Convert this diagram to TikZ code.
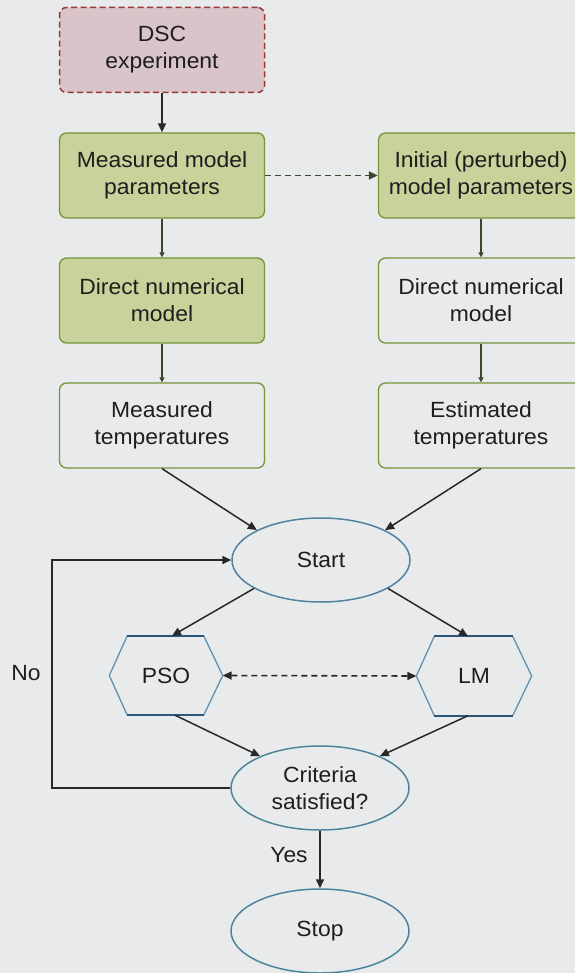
\documentclass[tikz,border=0pt]{standalone}
\usepackage{fontspec}
\setmainfont[FakeStretch=1.04]{Liberation Sans}
\usetikzlibrary{arrows.meta,shapes.geometric,calc}
\definecolor{bg}{RGB}{233,234,236}
\definecolor{pinkfill}{RGB}{216,196,201}
\definecolor{pinkline}{RGB}{155,55,55}
\definecolor{greenfill}{RGB}{201,210,155}
\definecolor{greenline}{RGB}{118,148,58}
\definecolor{ellline}{RGB}{78,132,158}
\definecolor{hexline}{RGB}{95,145,180}
\definecolor{hexdark}{RGB}{45,85,120}
\definecolor{arr}{RGB}{40,40,40}
\definecolor{garr}{RGB}{58,72,48}
\definecolor{txt}{RGB}{30,30,30}
\begin{document}
\begin{tikzpicture}[x=1pt,y=-1pt,
  font=\fontsize{22}{27}\selectfont, text=txt,
  box/.style={rectangle, rounded corners=7pt, minimum width=205pt, minimum height=85pt,
    align=center, draw=greenline, line width=1.3pt, inner sep=0pt},
  gbox/.style={box, fill=greenfill},
  dscbox/.style={box, fill=pinkfill, draw=pinkline, line width=1.5pt, dash pattern=on 6pt off 3.5pt},
  oval/.style={ellipse, draw=ellline, line width=1.5pt, minimum width=178pt,
    minimum height=84pt, inner sep=0pt, align=center},
  hexnode/.style={rectangle, minimum width=113pt, minimum height=79pt, inner sep=0pt},
  conn/.style={draw=arr, line width=1.5pt, -{Triangle[length=9pt,width=8pt]}},
  gconn/.style={draw=garr, line width=1.5pt, -{Triangle[length=5pt,width=5pt]}},
  dconn/.style={draw=garr, line width=1.6pt, dash pattern=on 6pt off 4pt},
  lbl/.style={inner sep=0pt}
]
\useasboundingbox (0,0) rectangle (575,973);
\fill[bg] (0,0) rectangle (575,973);
\clip (0,0) rectangle (575,973);

\node[dscbox] (dsc) at (162,50) {DSC\\experiment};
\node[gbox] (mmp) at (162,175.5) {Measured model\\parameters};
\node[gbox] (imp) at (481,175.5) {Initial (perturbed)\\model parameters};
\node[gbox] (dnm1) at (162,300.5) {Direct numerical\\model};
\node[box] (dnm2) at (481,300.5) {Direct numerical\\model};
\node[box] (mt) at (162,425.5) {Measured\\temperatures};
\node[box] (et) at (481,425.5) {Estimated\\temperatures};
\node[oval] (start) at (321,560) {Start};
\node[hexnode] (pso) at (166,675.5) {PSO};
\node[hexnode, minimum width=115pt] (lm) at (474,676) {LM};
\node[oval] (crit) at (320,788) {Criteria\\satisfied?};
\node[oval] (stop) at (320,931) {Stop};
\node[lbl] (no) at (26,673) {No};
\node[lbl] (yes) at (289,855) {Yes};

\foreach \h in {pso,lm} {
  \draw[hexline, line width=1.3pt] (\h.west) -- ([xshift=18pt]\h.north west)
    ([xshift=-19pt]\h.north east) -- (\h.east) -- ([xshift=-19pt]\h.south east)
    ([xshift=18pt]\h.south west) -- (\h.west);
  \draw[hexdark, line width=1.7pt] ([xshift=18pt]\h.north west) -- ([xshift=-19pt]\h.north east)
    ([xshift=18pt]\h.south west) -- ([xshift=-19pt]\h.south east);
}

\draw[conn] (dsc) -- (mmp);
\draw[gconn] (mmp) -- (dnm1);
\draw[gconn] (dnm1) -- (mt);
\draw[gconn] (imp) -- (dnm2);
\draw[gconn] (dnm2) -- (et);
\draw[dconn, -{Triangle[length=9pt,width=8pt]}] (mmp) -- (imp);
\draw[conn] (mt.south) -- (start.155);
\draw[conn] (et.south) -- (start.25);
\draw[conn] (start.203) -- ([xshift=6pt]pso.north);
\draw[conn] (start.337) -- ([xshift=-6pt]lm.north);
\draw[conn] ([xshift=9pt]pso.south) -- (crit.152);
\draw[conn] ([xshift=-6pt]lm.south) -- (crit.28);
\draw[dconn, draw=arr, {Triangle[length=9pt,width=8pt]}-{Triangle[length=9pt,width=8pt]}] (pso.east) -- (lm.west);
\draw[conn] (crit) -- (stop);
\coordinate (loopx) at (52,0);
\draw[conn] (crit.west) -- (crit.west -| loopx) |- (start.west);
\end{tikzpicture}
\end{document}
